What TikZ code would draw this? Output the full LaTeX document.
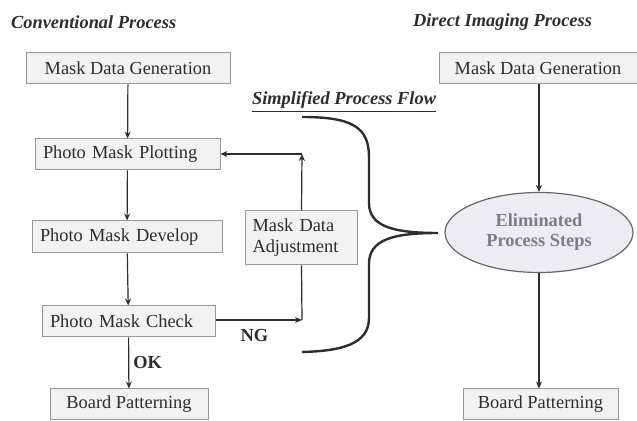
\documentclass[tikz,border=0pt]{standalone}
\usepackage{fontspec}
\setmainfont{Liberation Serif}
\usepackage{tikz}
\usetikzlibrary{shapes.geometric,arrows.meta,positioning}

\definecolor{boxfill}{RGB}{242,242,242}
\definecolor{ellfill}{RGB}{236,236,242}
\definecolor{inkgray}{RGB}{45,45,45}
\definecolor{steptext}{RGB}{125,125,135}

\begin{document}
\begin{tikzpicture}[x=0.5pt, y=-0.5pt,
    every node/.style={font=\fontsize{9.2}{10.5}\selectfont, text=inkgray},
    procbox/.style={draw=gray!80, line width=0.5pt, fill=boxfill, minimum height=15.5pt, inner sep=0pt},
    leftbox/.style={procbox, align=left, inner xsep=4pt},
    heading/.style={anchor=west, font=\fontsize{9.2}{10.5}\selectfont\bfseries\itshape},
    flowarrow/.style={draw=inkgray, line width=0.6pt, -{Stealth[length=3.5pt,width=3pt]}},
    flowline/.style={draw=inkgray, line width=0.6pt}]
  \useasboundingbox (0,0) rectangle (637,421);

  % titles
  \node[heading] (convtitle) at (4,22) {Conventional Process};
  \node[heading] (dititle) at (406,22) {Direct Imaging Process};
  \node[heading] (simptitle) at (245,102) {\underline{Simplified Process Flow}};

  % conventional flow
  \node[procbox, minimum width=102pt] (gen) at (128,68.5) {Mask Data Generation};
  \node[leftbox, text width=84.5pt] (plot) at (127.5,154.5) {Photo Mask Plotting};
  \node[leftbox, text width=87pt, minimum height=16pt] (dev) at (127,237) {Photo Mask Develop};
  \node[leftbox, text width=78.5pt] (check) at (128.5,321.5) {Photo Mask Check};
  \node[procbox, minimum width=79pt] (board) at (129,404.5) {Board Patterning};
  \node[leftbox, text width=49pt, inner xsep=3.5pt, minimum height=27pt] (adj) at (301.5,238) {Mask Data\\Adjustment};
  \coordinate (ngcorner) at (302,320);
  \coordinate (plcorner) at (302,154);

  \draw[flowarrow] (gen) -- (plot);
  \draw[flowarrow] (plot) -- (dev);
  \draw[flowarrow] (dev) -- (check);
  \draw[flowarrow] (check) -- node[right, font=\fontsize{9.2}{10.5}\selectfont\bfseries, inner xsep=2pt] (ok) {OK} (board);
  \draw[flowarrow] (check.east |- ngcorner) -- node[below, font=\fontsize{9.2}{10.5}\selectfont\bfseries, pos=0.45, yshift=-1pt] (ng) {NG} (ngcorner);
  \draw[flowline] (ngcorner) -- (adj.south);
  \draw[flowarrow] (adj.north) -- (plcorner);
  \draw[flowarrow] (plcorner) -- (plot.east |- plcorner);

  % brace
  \draw[inkgray, line width=1.2pt]
    (302,117) .. controls (352,117) and (369,127) .. (369,157) -- (369,203)
    .. controls (369,226) and (392,233) .. (438,233)
    .. controls (392,233) and (369,240) .. (369,264) -- (369,318)
    .. controls (369,344) and (342,351) .. (302,352);

  % direct imaging flow
  \node[procbox, minimum width=99pt] (dgen) at (538,68.5) {Mask Data Generation};
  \node[ellipse, draw=gray!80!black, line width=0.6pt, fill=ellfill, minimum width=94pt, minimum height=40pt, align=center,
    font=\fontsize{9.2}{10}\selectfont\bfseries, text=steptext] (elim) at (539,232.5) {Eliminated\\Process Steps};
  \node[procbox, minimum width=77.5pt] (dboard) at (540.5,404.5) {Board Patterning};
  \draw[flowarrow] (dgen.south -| elim.north) -- (elim.north);
  \draw[flowarrow] (elim.south) -- (dboard.north -| elim.south);
\end{tikzpicture}
\end{document}
